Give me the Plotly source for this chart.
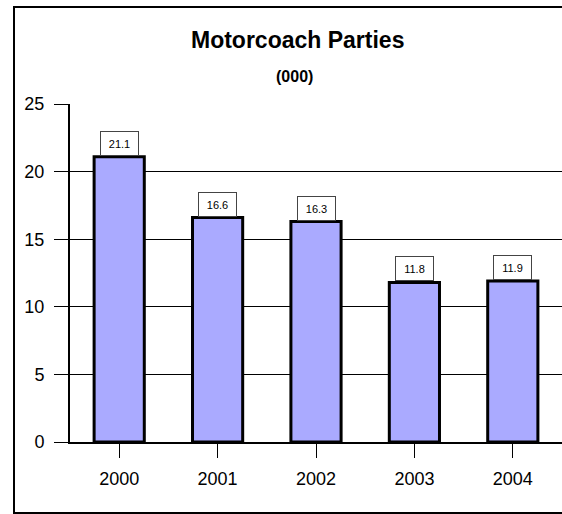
import plotly.graph_objects as go

years = ["2000", "2001", "2002", "2003", "2004"]
parties = [21.1, 16.6, 16.3, 11.8, 11.9]
y_ticks = [0, 5, 10, 15, 20, 25]

FONT = "Liberation Sans, Arial, sans-serif"
W, H = 562, 514
L, R, T, B = 70, 0, 104, 72
PW, PH = W - L - R, H - T - B


def px(xp):
    return (xp - L) / PW


def py(yp):
    return (H - B - yp) / PH


fig = go.Figure()
fig.add_trace(go.Bar(
    x=years, y=parties, width=0.51,
    marker=dict(color="#AAAAFF", line=dict(color="black", width=3)),
    hoverinfo="skip",
))

for i, v in enumerate(parties):
    fig.add_annotation(
        x=i, y=v, xref="x", yref="y", text=f"{v:.1f}",
        showarrow=False, yanchor="bottom", yshift=1,
        font=dict(family=FONT, size=11, color="black"),
        bgcolor="white", bordercolor="#444", borderwidth=1,
        width=35, height=21,
    )

fig.add_annotation(
    text="<b>Motorcoach Parties</b>", xref="paper", yref="paper",
    x=px(297), y=py(40), showarrow=False,
    xanchor="center", yanchor="middle",
    font=dict(family=FONT, size=23, color="black"),
)
fig.add_annotation(
    text="<b>(000)</b>", xref="paper", yref="paper",
    x=px(294), y=py(76), showarrow=False,
    xanchor="center", yanchor="middle",
    font=dict(family=FONT, size=16, color="black"),
)

# outer frame: left, top, bottom (right side lies outside the visible area)
frame = dict(color="black", width=2)
fig.add_shape(type="line", xref="paper", yref="paper",
              x0=px(14), x1=px(14), y0=py(513), y1=py(7), line=frame)
fig.add_shape(type="line", xref="paper", yref="paper",
              x0=px(13), x1=px(W), y0=py(7), y1=py(7), line=frame)
fig.add_shape(type="line", xref="paper", yref="paper",
              x0=px(13), x1=px(W), y0=py(513), y1=py(513), line=frame)

fig.update_layout(
    width=W, height=H,
    margin=dict(l=L, r=R, t=T, b=B),
    paper_bgcolor="white", plot_bgcolor="white",
    showlegend=False,
    font=dict(family=FONT, color="black"),
    xaxis=dict(
        type="category", range=[-0.5, 4.5],
        showline=True, linecolor="black", linewidth=2,
        ticks="outside", ticklen=14, tickcolor="black", tickwidth=1,
        tickfont=dict(family=FONT, size=18, color="black"),
        showgrid=False, zeroline=False, ticklabelstandoff=5,
    ),
    yaxis=dict(
        range=[0, 25], tickvals=y_ticks,
        showline=True, linecolor="black", linewidth=2,
        ticks="outside", ticklen=14, tickcolor="black", tickwidth=1,
        tickfont=dict(family=FONT, size=18, color="black"),
        showgrid=True, gridcolor="black", gridwidth=1,
        zeroline=False, ticklabelstandoff=6,
    ),
)

fig.write_html(
    "out.html",
    config={"displayModeBar": False},
    post_script="document.body.style.margin='0';document.body.style.overflow='hidden';",
)
